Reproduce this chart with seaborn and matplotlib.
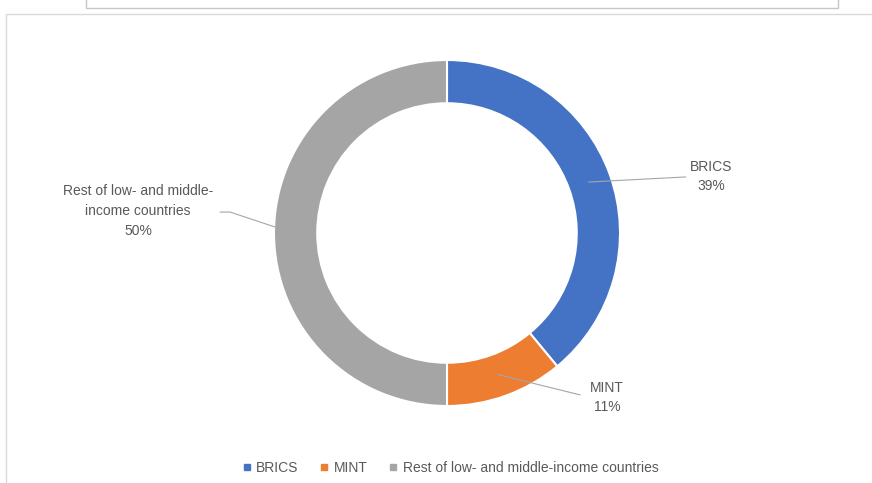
import numpy as np
import seaborn as sns
import matplotlib.pyplot as plt
from matplotlib.lines import Line2D
from matplotlib.patches import Rectangle

# data
groups = ["BRICS", "MINT", "Rest of low- and middle-income countries"]
shares = [39, 11, 50]
label_texts = ["BRICS\n39%", "MINT\n11%", "Rest of low- and middle-\nincome countries\n50%"]
colors = ["#4472C4", "#ED7D31", "#A5A5A5"]

sns.set_theme(style="white")
plt.rcParams["font.family"] = ["Liberation Sans", "DejaVu Sans"]
text_col = "#595959"

W, H = 872, 483
fig = plt.figure(figsize=(W / 100, H / 100), dpi=100)

# donut: center (447, 233) px, outer radius 173 px
cx, cy, R = 447, 233, 173
ax = fig.add_axes([(cx - R) / W, (H - cy - R) / H, 2 * R / W, 2 * R / H])
wedges, _ = ax.pie(shares, colors=colors, startangle=90, counterclock=False,
                   radius=1, wedgeprops=dict(width=0.25, edgecolor="white", linewidth=1.5))
ax.set_xlim(-1, 1)
ax.set_ylim(-1, 1)
ax.set_aspect("equal")
ax.axis("off")

# data labels with leader lines
label_pos = [(1.526, 0.327), (0.925, -0.951), (-1.786, 0.127)]
line_r = [0.87, 0.87, 0.995]
elbows = [[(1.38, 0.324)], [(0.77, -0.936)], [(-1.254, 0.121), (-1.312, 0.121)]]
for w, txt, pos, r, elb in zip(wedges, label_texts, label_pos, line_r, elbows):
    ang = np.deg2rad((w.theta1 + w.theta2) / 2)
    start = (r * np.cos(ang), r * np.sin(ang))
    if txt.startswith("Rest"):
        start = (start[0], start[1] + 0.035)
    pts = [start] + elb
    xs, ys = zip(*pts)
    ax.plot(xs, ys, color="#a6a6a6", lw=0.8, clip_on=False)
    ax.text(pos[0], pos[1], txt, ha="center", va="center", fontsize=10,
            color=text_col, linespacing=1.52, clip_on=False)

# legend
handles = [Line2D([], [], marker="s", ls="", color=c, markersize=3.8) for c in colors]
fig.legend(handles, groups, loc="center", bbox_to_anchor=(0.517, 0.031), ncol=3,
           frameon=False, fontsize=10, labelcolor=text_col, handlelength=0.5,
           handletextpad=0.45, columnspacing=1.58)

# frames from the screenshot
fig.add_artist(Rectangle((86 / W, 1 - 8 / H), (838 - 86) / W, 0.05, transform=fig.transFigure,
                         fill=False, edgecolor="#c6c6c6", lw=1.0))
fig.add_artist(Rectangle((6 / W, -0.05), 1.0, 1 - 14 / H + 0.05, transform=fig.transFigure,
                         fill=False, edgecolor="#d9d9d9", lw=1.0))

fig.savefig("out.png", dpi=100)
